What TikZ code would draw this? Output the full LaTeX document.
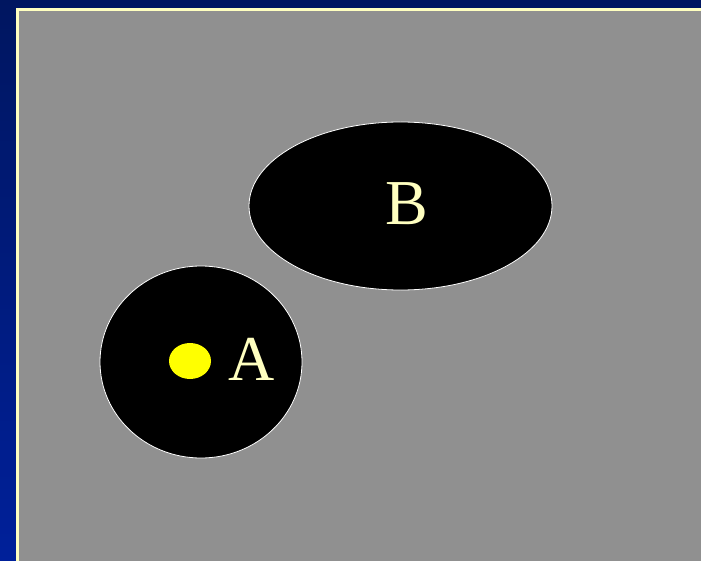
\documentclass[tikz,border=0pt]{standalone}
\usepackage{fontspec}
\setmainfont{Liberation Serif}
\usetikzlibrary{shapes.geometric}
\definecolor{slidetop}{HTML}{001660}
\definecolor{slidebot}{HTML}{00209A}
\definecolor{panelgray}{HTML}{909090}
\definecolor{paleyellow}{HTML}{FFFFC0}
\definecolor{dotyellow}{HTML}{FFFF00}
\tikzset{
  region/.style={ellipse, draw=white, line width=0.8pt, fill=black, inner sep=0pt},
  label/.style={text=paleyellow, font=\fontsize{64}{64}\selectfont, inner sep=0pt},
}
\begin{document}
\begin{tikzpicture}[x=1pt, y=-1pt]
  % slide background and gray panel
  \shade[top color=slidetop, bottom color=slidebot] (0,0) rectangle (701,561);
  \useasboundingbox (0,0) rectangle (701,561);
  \fill[paleyellow] (16,8) rectangle (705,565);
  \fill[panelgray] (19,11) rectangle (705,565);

  % the two regions
  \node[region, minimum width=303pt, minimum height=168pt] (B) at (400.5,206) {};
  \node[region, minimum width=202pt, minimum height=192pt] (A) at (201,362) {};

  % point inside A
  \node[ellipse, fill=dotyellow, minimum width=42pt, minimum height=36pt, inner sep=0pt] (p) at (190,361) {};

  \node[label] (labA) at (252,359) {A};
  \node[label] (labB) at (407,204) {B};
\end{tikzpicture}
\end{document}
